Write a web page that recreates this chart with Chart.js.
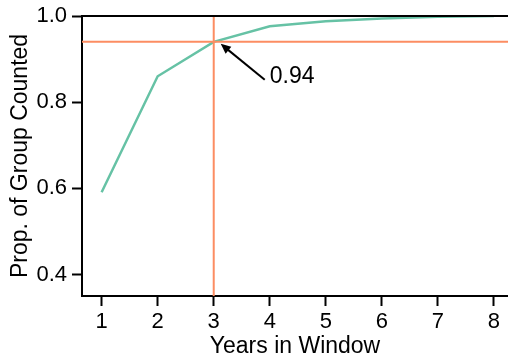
<!DOCTYPE html>
<html>
<head>
<meta charset="utf-8">
<script src="https://cdn.jsdelivr.net/npm/chart.js@4"></script>
<style>
  html, body { margin: 0; padding: 0; background: #fff; }
  #wrap { width: 508px; height: 356px; }
</style>
</head>
<body>
<div id="wrap"><canvas id="c" width="508" height="356"></canvas></div>
<script>
// Share of the group counted as the observation window grows
const years = [1, 2, 3, 4, 5, 6, 7, 8];
const propCounted = [0.591, 0.86, 0.94, 0.976, 0.988, 0.994, 0.998, 1.0];

// Tick labels
const xTicks = [1, 2, 3, 4, 5, 6, 7, 8];
const yTicks = [0.4, 0.6, 0.8, 1.0];

// Highlighted cut-off and its label
const cutoffYear = 3;
const cutoffProp = 0.94;
const cutoffLabel = '0.94';
const fullProp = 1.0;

// Axis limits
const xMin = 0.65, xMax = 8.25;
const yMin = 0.35, yMax = 1.0;

const GREEN = '#66C2A5';
const ORANGE = '#FC8D62';
const FONT = "'Liberation Sans', Arial, Helvetica, sans-serif";

Chart.defaults.font.family = FONT;
Chart.defaults.color = '#000';

// Arrow + text pointing at the cut-off point
const calloutPlugin = {
  id: 'callout',
  afterDatasetsDraw(chart) {
    const { ctx, scales } = chart;
    const px = scales.x.getPixelForValue(cutoffYear);
    const py = scales.y.getPixelForValue(cutoffProp);
    const tip = { x: px + 7, y: py + 2 };
    const tail = { x: px + 51, y: py + 38 };
    const ang = Math.atan2(tip.y - tail.y, tip.x - tail.x);
    const headLen = 10, headHalf = 4.5;
    ctx.save();
    ctx.strokeStyle = '#000';
    ctx.fillStyle = '#000';
    ctx.lineWidth = 2;
    ctx.beginPath();
    ctx.moveTo(tail.x, tail.y);
    ctx.lineTo(tip.x - Math.cos(ang) * 4, tip.y - Math.sin(ang) * 4);
    ctx.stroke();
    const bx = tip.x - Math.cos(ang) * headLen;
    const by = tip.y - Math.sin(ang) * headLen;
    ctx.beginPath();
    ctx.moveTo(tip.x, tip.y);
    ctx.lineTo(bx + Math.sin(ang) * headHalf, by - Math.cos(ang) * headHalf);
    ctx.lineTo(bx - Math.sin(ang) * headHalf, by + Math.cos(ang) * headHalf);
    ctx.closePath();
    ctx.fill();
    ctx.font = '23px ' + FONT;
    ctx.textAlign = 'left';
    ctx.textBaseline = 'middle';
    ctx.fillText(cutoffLabel, px + 56, py + 35);
    ctx.restore();
  }
};

new Chart(document.getElementById('c'), {
  type: 'line',
  data: {
    datasets: [
      {
        label: 'full',
        data: [{ x: xMin, y: fullProp }, { x: xMax, y: fullProp }],
        borderColor: '#000', borderWidth: 2, pointRadius: 0, clip: false
      },
      {
        label: 'cutoff-h',
        data: [{ x: xMin, y: cutoffProp }, { x: xMax, y: cutoffProp }],
        borderColor: ORANGE, borderWidth: 2, pointRadius: 0, clip: false
      },
      {
        label: 'cutoff-v',
        data: [{ x: cutoffYear, y: yMin }, { x: cutoffYear, y: fullProp }],
        borderColor: ORANGE, borderWidth: 2, pointRadius: 0, clip: false
      },
      {
        label: 'Prop. counted',
        data: years.map((x, i) => ({ x, y: propCounted[i] })),
        borderColor: GREEN, borderWidth: 2.5, pointRadius: 0, tension: 0
      }
    ]
  },
  options: {
    responsive: false,
    animation: false,
    events: [],
    layout: { padding: { top: 16, left: 0, right: 0, bottom: 0 } },
    plugins: { legend: { display: false }, tooltip: { enabled: false } },
    scales: {
      x: {
        type: 'linear',
        min: xMin, max: xMax,
        afterBuildTicks: s => { s.ticks = xTicks.map(v => ({ value: v })); },
        afterFit: s => { s.height = 60; s.paddingLeft = 0; s.paddingRight = 0; },
        ticks: { font: { size: 22 }, padding: 3, color: '#000', callback: v => String(v) },
        grid: { drawOnChartArea: false, drawTicks: true, tickLength: 10, tickWidth: 2, tickColor: '#000' },
        border: { display: true, color: '#000', width: 2 },
        title: { display: true, text: 'Years in Window', font: { size: 23, lineHeight: 1 }, padding: { top: 0, bottom: -2 }, color: '#000' }
      },
      y: {
        type: 'linear',
        min: yMin, max: yMax,
        afterBuildTicks: s => { s.ticks = yTicks.map(v => ({ value: v })); },
        afterFit: s => { s.width = 82; s.paddingTop = 0; s.paddingBottom = 0; },
        ticks: { font: { size: 22 }, padding: 5, color: '#000', callback: v => v.toFixed(1) },
        grid: { drawOnChartArea: false, drawTicks: true, tickLength: 10, tickWidth: 2, tickColor: '#000' },
        border: { display: true, color: '#000', width: 2 },
        title: { display: true, text: 'Prop. of Group Counted', font: { size: 23, lineHeight: 1 }, padding: { top: 9, bottom: 0 }, color: '#000' }
      }
    }
  },
  plugins: [calloutPlugin]
});
</script>
</body>
</html>
